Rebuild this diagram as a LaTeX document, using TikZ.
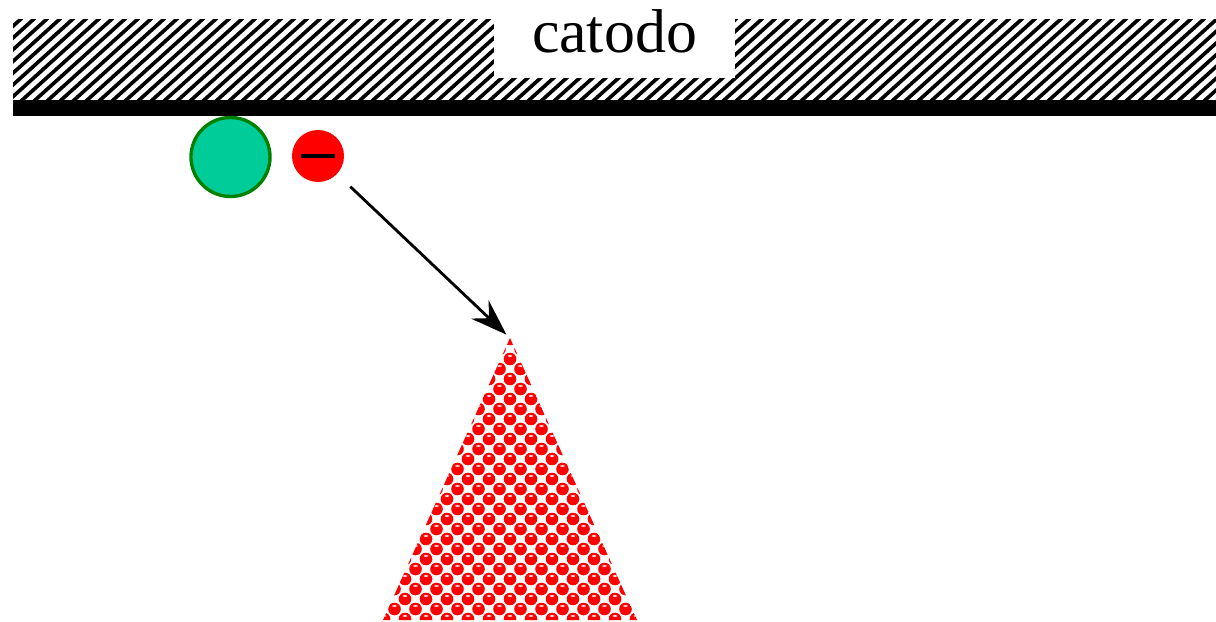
\documentclass[tikz,border=0pt]{standalone}
\usepackage{fontspec}
\setmainfont{Liberation Serif}
\usetikzlibrary{arrows.meta, positioning}
\tikzset{
  stripe/.style={draw=black, line width=2.6pt},
  plate/.style={fill=black},
  lbl/.style={fill=white, inner sep=0pt, text width=6.025cm, align=center,
    text height=0.85cm, text depth=0.625cm,
    font=\fontsize{44}{53}\selectfont},
  ion/.style={circle, draw={rgb,255:red,0;green,128;blue,0}, line width=2.4pt,
    fill={rgb,255:red,0;green,204;blue,153}, minimum size=1.975cm, inner sep=0pt},
  electron/.style={circle, fill=red, minimum size=1.3cm, inner sep=0pt},
  ball/.style={fill=red},
  shine/.style={fill=white!85!red},
  arr/.style={-{Stealth[length=26pt, width=18pt, inset=9pt]}, draw=black,
    line width=2pt},
}
\begin{document}
\begin{tikzpicture}[x=0.025cm, y=-0.025cm]
    \useasboundingbox (0,0) rectangle (1216,622);
    \begin{scope}
      \clip (13,20) rectangle (1216,100);
      \foreach \sx in {-110,-97,...,1230}
        \draw[stripe] (\sx,102) -- ++(93,-84);
    \end{scope}
    \path[plate] (13,100) rectangle (1216,116);
    \node[lbl, anchor=base] (catodo) at (614.5,53) {catodo};

    \node[ion] (ione) at (230.5,157) {};
    \node[electron] (elettrone) at (318,156) {\rule[-0.05cm]{0.825cm}{0.1cm}};

    \coordinate (apice) at (510,338);
    \begin{scope}
      \clip (apice) -- (637,620) -- (383,620) -- cycle;
      \foreach \row in {0,...,28}{
        \pgfmathsetmacro{\by}{339+10*\row}
        \pgfmathsetmacro{\bo}{mod(\row,2)*10.5}
        \foreach \col in {-7,...,7}{
          \fill[ball] (510+\bo+21*\col,\by) circle[radius=6.3];
          \fill[shine] (510+\bo+21*\col,\by-3) ellipse[x radius=2.3, y radius=0.9];
        }
      }
    \end{scope}

    \draw[arr, shorten <=13pt, shorten >=3.5pt] (elettrone) -- (apice);
  \end{tikzpicture}
\end{document}
